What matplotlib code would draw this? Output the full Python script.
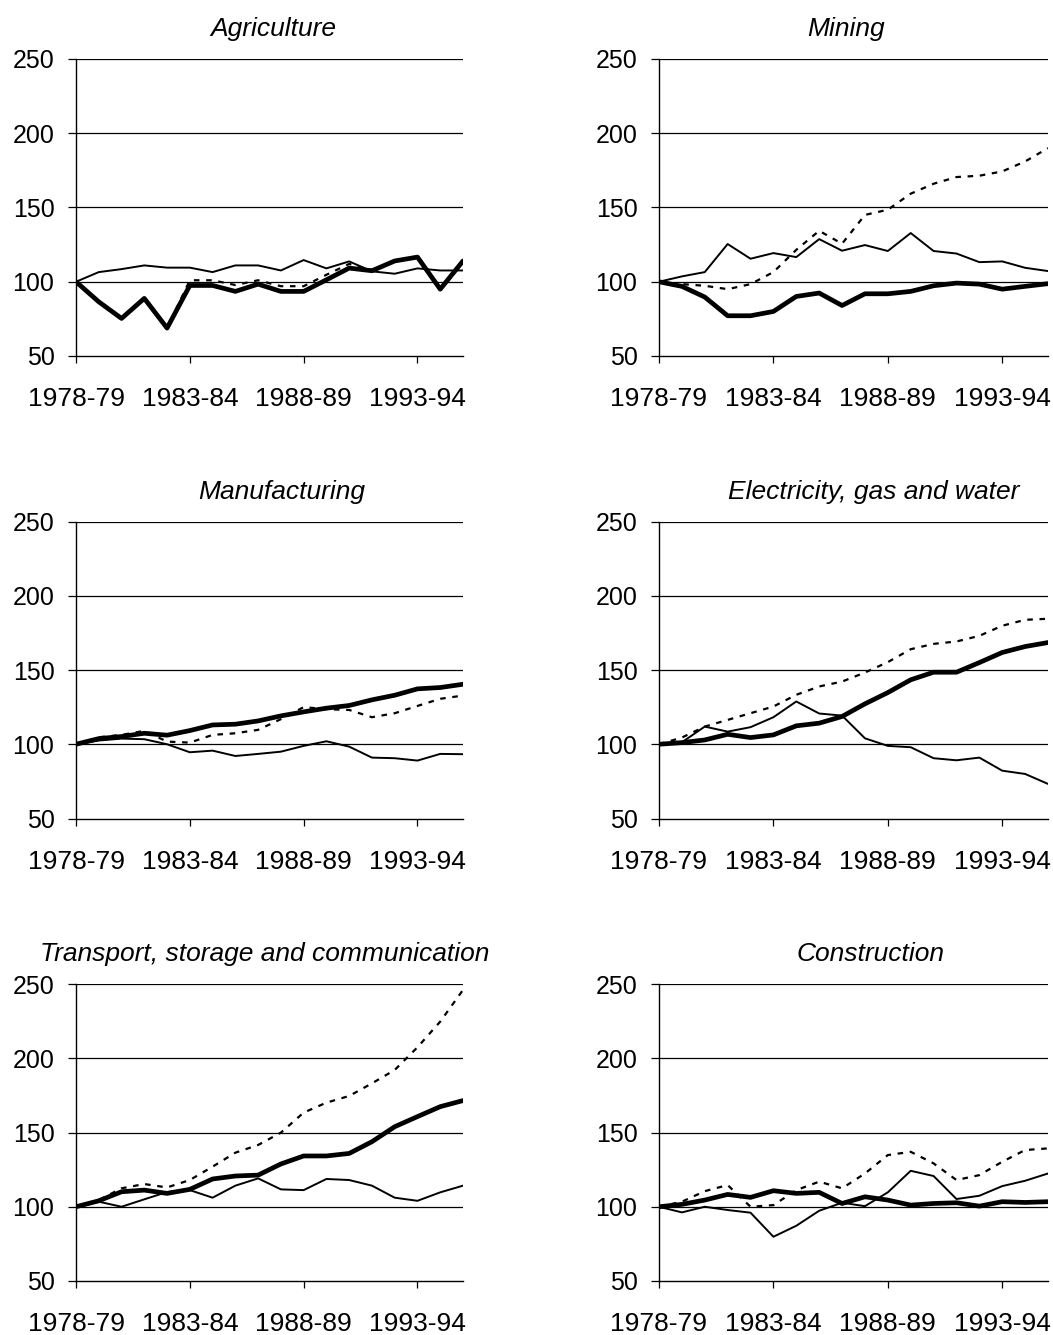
import matplotlib
matplotlib.use("Agg")
import matplotlib.pyplot as plt

plt.rcParams['font.family'] = ['Liberation Sans', 'DejaVu Sans']

years = ["1978-79", "1979-80", "1980-81", "1981-82", "1982-83", "1983-84", "1984-85",
         "1985-86", "1986-87", "1987-88", "1988-89", "1989-90", "1990-91", "1991-92",
         "1992-93", "1993-94", "1994-95", "1995-96"]
tick_labels = ["1978-79", "1983-84", "1988-89", "1993-94"]

titles = ["Agriculture", "Mining", "Manufacturing", "Electricity, gas and water",
          "Transport, storage and communication", "Construction"]

agr_thin = [100, 106.5, 108.5, 111, 109.5, 109.5, 106.5, 111, 111, 107.6, 114.6, 109, 113.7, 107, 105.4, 109, 107.6, 107.6]
agr_dot = [100, 86.5, 75.3, 88.8, 68.8, 101, 101, 97.8, 101, 97, 97, 104.7, 112, 108, 114, 116.6, 95, 114]
agr_thick = [100, 86.5, 75.3, 88.8, 68.8, 97.5, 97.5, 93.5, 98.4, 93.5, 93.5, 101.3, 109.2, 107.4, 114, 116.6, 95, 114]

min_thin = [100, 103.6, 106.5, 125.4, 115.5, 119.3, 116.6, 128.7, 120.9, 124.7, 120.7, 132.8, 120.7, 119, 113.2, 113.7, 109.4, 107.2]
min_dot = [100, 98.4, 97.3, 95, 98.4, 106.5, 121.5, 134.3, 125.6, 145, 148.5, 159.3, 166, 170.5, 171.4, 174.3, 181, 190]
min_thick = [100, 96.9, 89.7, 77.1, 77.1, 80, 90.1, 92.4, 84, 91.9, 91.9, 93.5, 97.3, 99.1, 98.4, 95, 96.9, 98.7]

man_thin = [100, 102.5, 103.8, 103.4, 100, 94.6, 95.7, 92.1, 93.5, 95, 98.9, 102, 98.4, 91, 90.6, 89, 93.5, 93.3]
man_dot = [100, 104.7, 106.3, 109, 101.8, 101.1, 106.3, 107.4, 109.7, 116.9, 125, 123.6, 123.1, 118.2, 120.9, 125.8, 130.6, 132.8]
man_thick = [100, 103.8, 105.2, 107.4, 106.1, 109.2, 113, 113.5, 115.7, 119.1, 121.8, 124.3, 126.1, 129.9, 133, 137.3, 138.2, 140.4]

ele_thin = [100, 101.3, 111.9, 108.5, 111.5, 118.2, 128.8, 120.7, 119.3, 104, 98.9, 98, 90.6, 89.2, 91, 82.2, 80, 73.3]
ele_dot = [100, 104.5, 111.9, 116.4, 120.9, 125.4, 133.3, 138.9, 142.2, 148.3, 155.3, 164, 167.6, 169.2, 173, 179.8, 183.8, 184.5]
ele_thick = [100, 101.1, 102.9, 106.7, 104.5, 106.3, 112.4, 114.2, 118.7, 127.2, 134.8, 143.4, 148.5, 148.5, 155, 161.8, 165.8, 168.5]

tra_thin = [100, 103.4, 100, 105, 109.9, 111.2, 106.1, 114.2, 119.1, 111.7, 111.2, 118.7, 118, 114.2, 106.1, 104, 109.7, 114.2]
tra_dot = [100, 104.5, 112.4, 115.3, 113, 118, 127, 136.4, 141.6, 149.9, 163.4, 170.1, 174.6, 183.1, 192.1, 207.4, 224.7, 246]
tra_thick = [100, 104, 110.1, 111.2, 109, 111.7, 118.7, 120.7, 121.3, 128.8, 134.2, 134.2, 135.9, 143.8, 153.9, 160.7, 167.4, 171.5]

con_thin = [100, 96.2, 100, 97.8, 96, 79.8, 87.2, 97.3, 102.7, 100.4, 109.7, 124.2, 120.7, 105.2, 107.4, 113.9, 117.5, 122.4]
con_dot = [100, 103.4, 110.5, 114.6, 100, 101.1, 111.2, 116.9, 112.4, 122.4, 134.8, 137, 129.2, 118, 121.3, 130.3, 138.2, 139.3]
con_thick = [100, 101.6, 104.5, 108.3, 106.3, 110.8, 109, 109.7, 102.2, 106.7, 104.5, 101.1, 102.2, 102.7, 100.4, 103.4, 102.9, 103.4]

series = [
    (agr_thin, agr_dot, agr_thick),
    (min_thin, min_dot, min_thick),
    (man_thin, man_dot, man_thick),
    (ele_thin, ele_dot, ele_thick),
    (tra_thin, tra_dot, tra_thick),
    (con_thin, con_dot, con_thick),
]

W, H = 1053, 1335
fig = plt.figure(figsize=(W / 100, H / 100), dpi=100)

cols = [(76, 463), (659, 1048)]
rows = [(59, 356), (521.5, 818.5), (984, 1281)]
title_cx = [273, 846, 282, 874, 265, 871]

for k, (thin, dot, thick) in enumerate(series):
    r, c = divmod(k, 2)
    x0, x1 = cols[c]
    y0, y1 = rows[r]
    ax = fig.add_axes([x0 / W, 1 - y1 / H, (x1 - x0) / W, (y1 - y0) / H])
    xs = list(range(len(years)))
    ax.plot(xs, thin, color='black', lw=1.4, solid_joinstyle='round', zorder=3)
    ax.plot(xs, dot, color='black', lw=1.6, linestyle=(0, (2.5, 3)), zorder=4)
    ax.plot(xs, thick, color='black', lw=3.4, solid_joinstyle='round',
            solid_capstyle='round', zorder=5)
    ax.set_xlim(0, len(years) - 1)
    ax.set_ylim(50, 250)
    ax.set_yticks([50, 100, 150, 200, 250])
    ax.set_xticks([0, 5, 10, 15])
    ax.set_xticklabels(tick_labels)
    for yv in [100, 150, 200, 250]:
        ax.axhline(yv, color='black', lw=0.9, zorder=2)
    for s in ['top', 'right']:
        ax.spines[s].set_visible(False)
    ax.spines['left'].set_linewidth(1.0)
    ax.spines['bottom'].set_linewidth(1.0)
    ax.tick_params(axis='y', direction='out', length=6, width=0.9, pad=9.5, labelsize=18)
    ax.tick_params(axis='x', direction='out', length=5, width=0.9, pad=17.5, labelsize=19)
    ax.set_title(titles[k], fontsize=19, style='italic', pad=16.5,
                 x=(title_cx[k] - x0) / (x1 - x0))
    ax.set_facecolor('white')

fig.savefig("out.png", dpi=100, facecolor='white')
